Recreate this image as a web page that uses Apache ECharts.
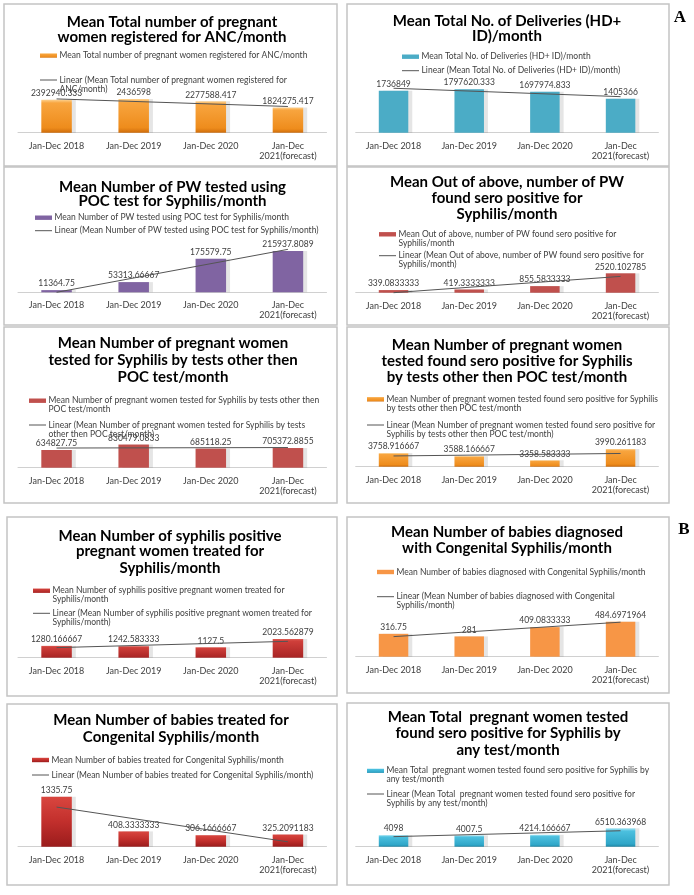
<!DOCTYPE html>
<html><head><meta charset="utf-8">
<script src="https://cdn.jsdelivr.net/npm/echarts@6/dist/echarts.min.js"></script>
<style>html,body{margin:0;padding:0;background:#fff}#c{width:694px;height:895px}</style>
</head><body><div id="c"></div>
<script>
// ---------- data ----------
const categories = ['Jan-Dec 2018', 'Jan-Dec 2019', 'Jan-Dec 2020', 'Jan-Dec\n2021(forecast)'];

const ancValues = [2392940.333, 2436598, 2277588.417, 1824275.417];
const ancTrend = [2450000, 1900000];
const deliveryValues = [1736849, 1797620.333, 1697974.833, 1405366];
const deliveryTrend = [1838000, 1490000];
const pocTestedValues = [11364.75, 53313.66667, 175579.75, 215937.8089];
const pocTestedTrend = [0, 224500];
const pocPositiveValues = [339.0833333, 419.3333333, 855.5833333, 2520.102785];
const pocPositiveTrend = [0, 2120];
const otherTestedValues = [634827.75, 830479.0833, 685118.25, 705372.8855];
const otherTestedTrend = [705000, 723000];
const otherPositiveValues = [3758.916667, 3588.166667, 3358.583333, 3990.261183];
const otherPositiveTrend = [3600, 3740];
const pwTreatedValues = [1280.166667, 1242.583333, 1127.5, 2023.562879];
const pwTreatedTrend = [1090, 1770];
const babiesDiagnosedValues = [316.75, 281, 409.0833333, 484.6971964];
const babiesDiagnosedTrend = [278, 478];
const babiesTreatedValues = [1335.75, 408.3333333, 306.1666667, 325.2091183];
const babiesTreatedTrend = [1058, 130];
const anyTestValues = [4098, 4007.5, 4214.166667, 6510.363968];
const anyTestTrend = [3560, 5650];

// ---------- styles ----------
const FONT = 'Lato, "Open Sans", sans-serif';
function vgrad(stops) {
  return {type: 'linear', x: 0, y: 0, x2: 0, y2: 1,
    colorStops: stops.map(s => ({offset: s[0], color: s[1]}))};
}
const ORANGE_G = vgrad([[0, '#fdd290'], [0.1, '#f8a53f'], [0.85, '#ee8c1c'], [1, '#cf6d0b']]);
const RED_G = vgrad([[0, '#dd5a52'], [0.12, '#cf3f3a'], [1, '#a82424']]);
const DRED_G = vgrad([[0, '#d9463f'], [0.5, '#c22f2c'], [1, '#9a1c1c']]);
const TEAL_G = vgrad([[0, '#a6e6f5'], [0.15, '#4cc0df'], [0.85, '#2fa6c8'], [1, '#1f86a5']]);

const panels = [
  {box: [4, 4, 337, 166], side: 'L', axisY: 132.7, upp: 72500, min: 0, fill: ORANGE_G,
   values: ancValues, trend: ancTrend,
   title: ['Mean Total number of pregnant', 'women registered for ANC/month'], tx: 172, ty: [21.7, 36.7],
   lx: 40, barY: 55.5, lineY: 80,
   barText: ['Mean Total number of pregnant women registered for ANC/month'],
   lineText: ['Linear (Mean Total number of pregnant women registered for', 'ANC/month)']},
  {box: [347, 4, 669, 166], side: 'R', axisY: 132.7, upp: 41353, min: 0, fill: '#4bacc6',
   values: deliveryValues, trend: deliveryTrend,
   title: ['Mean Total No. of Deliveries (HD+', 'ID)/month'], tx: 507, ty: [21, 36],
   lx: 402, barY: 56.7, lineY: 70.7,
   barText: ['Mean Total No. of Deliveries (HD+ ID)/month'],
   lineText: ['Linear (Mean Total No. of Deliveries (HD+ ID)/month)']},
  {box: [4, 167, 337, 325], side: 'L', axisY: 292.3, upp: 5228, min: 0, fill: '#8064a2',
   values: pocTestedValues, trend: pocTestedTrend,
   title: ['Mean Number of PW tested using', 'POC test for Syphilis/month'], tx: 172.5, ty: [186.7, 201],
   lx: 35, barY: 217.7, lineY: 230.7,
   barText: ['Mean Number of PW tested using POC test for Syphilis/month'],
   lineText: ['Linear (Mean Number of PW tested using POC test for Syphilis/month)']},
  {box: [347, 167, 669, 325], side: 'R', axisY: 292.7, upp: 130, min: 0, fill: '#c0504d',
   values: pocPositiveValues, trend: pocPositiveTrend,
   title: ['Mean Out of above, number of PW', 'found sero positive for', 'Syphilis/month'], tx: 507, ty: [182.3, 198.3, 214.3],
   lx: 379, barY: 234.3, lineY: 255.7,
   barText: ['Mean Out of above, number of PW found sero positive for', 'Syphilis/month'],
   lineText: ['Linear (Mean Out of above, number of PW found sero positive for', 'Syphilis/month)']},
  {box: [4, 327, 337, 503], side: 'L', axisY: 467.7, upp: 35867, min: 0, fill: '#c0504d',
   values: otherTestedValues, trend: otherTestedTrend,
   title: ['Mean Number of pregnant women', 'tested for Syphilis by tests other then', 'POC test/month'], tx: 173, ty: [343.3, 360, 376.7],
   lx: 29, barY: 400.7, lineY: 425,
   barText: ['Mean Number of pregnant women tested for Syphilis by tests other then', 'POC test/month'],
   lineText: ['Linear (Mean Number of pregnant women tested for Syphilis by tests', 'other then POC test/month)']},
  {box: [347, 327, 669, 503], side: 'R', axisY: 466.7, upp: 55.9, min: 3000, fill: ORANGE_G,
   values: otherPositiveValues, trend: otherPositiveTrend,
   title: ['Mean Number of pregnant women', 'tested found sero positive for Syphilis', 'by tests other then POC test/month'], tx: 507, ty: [345, 361, 376.7],
   lx: 367, barY: 399.3, lineY: 425,
   barText: ['Mean Number of pregnant women tested found sero positive for Syphilis', 'by tests other then POC test/month'],
   lineText: ['Linear (Mean Number of pregnant women tested found sero positive for', 'Syphilis by tests other then POC test/month)']},
  {box: [7, 517, 337, 696], side: 'L', axisY: 657.7, upp: 108.2, min: 0, fill: RED_G,
   values: pwTreatedValues, trend: pwTreatedTrend,
   title: ['Mean Number of syphilis positive', 'pregnant women treated for', 'Syphilis/month'], tx: 170, ty: [535.7, 551, 567.7],
   lx: 33, barY: 590.7, lineY: 613.3,
   barText: ['Mean Number of syphilis positive pregnant women treated for', 'Syphilis/month'],
   lineText: ['Linear (Mean Number of syphilis positive pregnant women treated for', 'Syphilis/month)']},
  {box: [347, 517, 669, 693], side: 'R', axisY: 656.7, upp: 13.85, min: 0, fill: '#f79646',
   values: babiesDiagnosedValues, trend: babiesDiagnosedTrend,
   title: ['Mean Number of babies diagnosed', 'with Congenital Syphilis/month'], tx: 507, ty: [531.7, 548.3],
   lx: 377, barY: 572, lineY: 596.7,
   barText: ['Mean Number of babies diagnosed with Congenital Syphilis/month'],
   lineText: ['Linear (Mean Number of babies diagnosed with Congenital', 'Syphilis/month)']},
  {box: [7, 704, 337, 885], side: 'L', axisY: 846.7, upp: 26.7, min: 0, fill: DRED_G,
   values: babiesTreatedValues, trend: babiesTreatedTrend,
   title: ['Mean Number of babies treated for', 'Congenital Syphilis/month'], tx: 171, ty: [720, 736.7],
   lx: 32, barY: 760, lineY: 775,
   barText: ['Mean Number of babies treated for Congenital Syphilis/month'],
   lineText: ['Linear (Mean Number of babies treated for Congenital Syphilis/month)']},
  {box: [347, 703, 669, 885], side: 'R', axisY: 846.7, upp: 354, min: 0, fill: TEAL_G,
   values: anyTestValues, trend: anyTestTrend,
   title: ['Mean Total  pregnant women tested', 'found sero positive for Syphilis by', 'any test/month'], tx: 508, ty: [716.7, 733.3, 750],
   lx: 367, barY: 770.7, lineY: 794,
   barText: ['Mean Total  pregnant women tested found sero positive for Syphilis by', 'any test/month'],
   lineText: ['Linear (Mean Total  pregnant women tested found sero positive for', 'Syphilis by any test/month)']}
];

const GRID_H = 60;
const grid = [], xAxis = [], yAxis = [], series = [], graphic = [];

panels.forEach((p, i) => {
  const [x0, y0, x1, y1] = p.box;
  graphic.push({type: 'rect', z: 0, silent: true,
    shape: {x: x0, y: y0, width: x1 - x0, height: y1 - y0},
    style: {fill: '#fff', stroke: '#c4c4c4', lineWidth: 1.5}});
  p.title.forEach((t, k) => graphic.push({type: 'text', z: 100, x: p.tx, y: p.ty[k],
    style: {text: t, fill: '#000', font: 'bold 15px ' + FONT, align: 'center', verticalAlign: 'middle'}}));
  // legend: bar entry
  graphic.push({type: 'rect', z: 100, shape: {x: p.lx, y: p.barY - 2.2, width: 17, height: 4.4},
    style: {fill: p.fill}});
  p.barText.forEach((t, k) => graphic.push({type: 'text', z: 100, x: p.lx + 19.5, y: p.barY + k * 9,
    style: {text: t, fill: '#404040', font: '8.5px ' + FONT, align: 'left', verticalAlign: 'middle'}}));
  // legend: trend entry
  graphic.push({type: 'line', z: 100, shape: {x1: p.lx, y1: p.lineY, x2: p.lx + 17, y2: p.lineY},
    style: {stroke: '#555', lineWidth: 1}});
  p.lineText.forEach((t, k) => graphic.push({type: 'text', z: 100, x: p.lx + 19.5, y: p.lineY + k * 9,
    style: {text: t, fill: '#404040', font: '8.5px ' + FONT, align: 'left', verticalAlign: 'middle'}}));

  const left = p.side === 'L' ? 18 : 355.7;
  const width = p.side === 'L' ? 308.5 : 302.7;
  grid.push({left: left, width: width, top: p.axisY - GRID_H, height: GRID_H,
    containLabel: false, outerBoundsMode: 'none'});
  xAxis.push({type: 'category', gridIndex: i, data: categories,
    axisLine: {show: true, lineStyle: {color: '#d0d0d0', width: 1}},
    axisTick: {show: false},
    axisLabel: {interval: 0, margin: 8, fontSize: 9, lineHeight: 10, color: '#404040', fontFamily: FONT}});
  yAxis.push({type: 'value', gridIndex: i, show: false, min: p.min, max: p.min + GRID_H * p.upp,
    splitLine: {show: false}});
  series.push({type: 'bar', xAxisIndex: i, yAxisIndex: i, data: p.values,
    barWidth: p.side === 'L' ? 30.5 : 29.5, clip: true, z: 2,
    itemStyle: {color: p.fill, shadowColor: 'rgba(0,0,0,0.10)', shadowOffsetX: 4, shadowBlur: 0},
    label: {show: true, position: 'top', distance: 2, fontSize: 8.5, color: '#404040', fontFamily: FONT,
      formatter: q => String(q.value)}});
  series.push({type: 'line', xAxisIndex: i, yAxisIndex: i,
    data: [p.trend[0], null, null, p.trend[1]], connectNulls: true,
    symbol: 'none', clip: false, z: 3,
    lineStyle: {color: '#555', width: 1}});
});

graphic.push({type: 'text', z: 100, x: 680, y: 18, style: {text: 'A', fill: '#000',
  font: 'bold 17px "Liberation Serif", "DejaVu Serif", serif', align: 'center', verticalAlign: 'middle'}});
graphic.push({type: 'text', z: 100, x: 684, y: 530, style: {text: 'B', fill: '#000',
  font: 'bold 17px "Liberation Serif", "DejaVu Serif", serif', align: 'center', verticalAlign: 'middle'}});

const chart = echarts.init(document.getElementById('c'), null, {renderer: 'canvas'});
chart.setOption({
  backgroundColor: '#fff',
  animation: false,
  textStyle: {fontFamily: FONT},
  grid, xAxis, yAxis, series,
  graphic: {elements: graphic}
});
</script></body></html>
